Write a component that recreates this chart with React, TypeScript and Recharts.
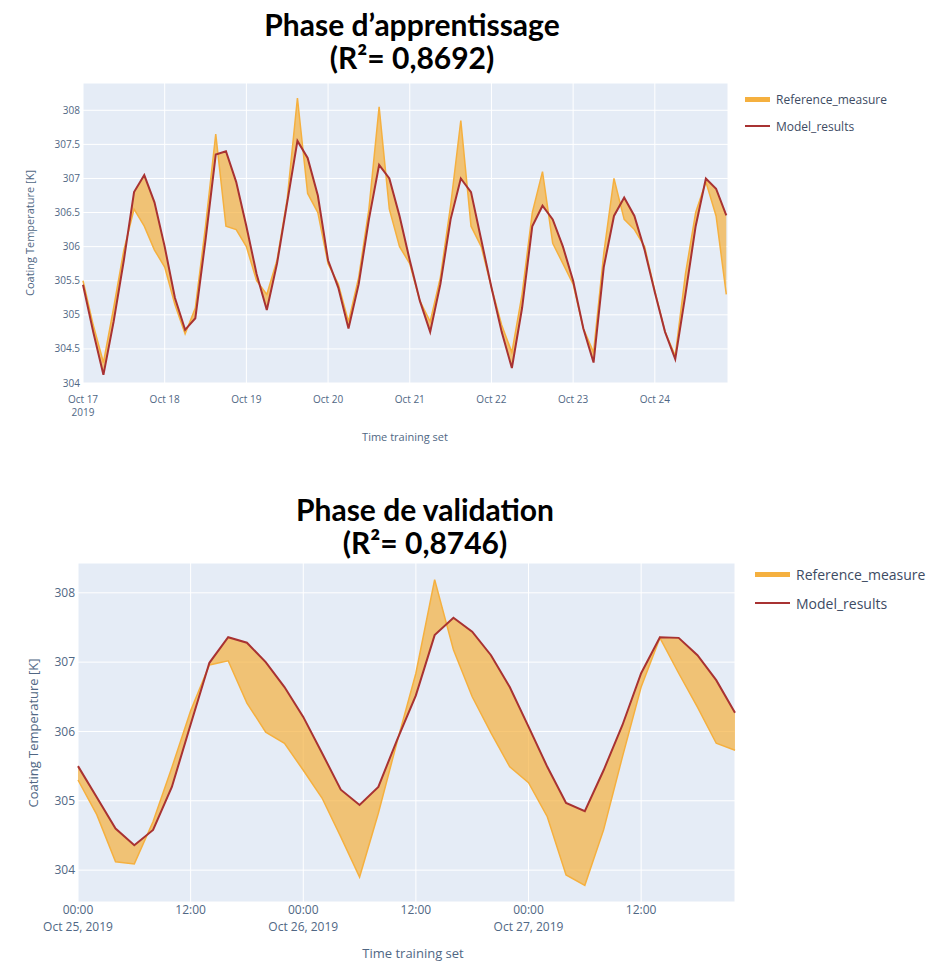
import { Area, CartesianGrid, ComposedChart, Line, XAxis, YAxis } from "recharts";

// training set, one point every 3 hours from Oct 17 00:00
const trainHours = [
  0, 3, 6, 9, 12, 15, 18, 21, 24, 27, 30, 33, 36, 39, 42, 45, 48, 51, 54, 57, 60,
  63, 66, 69, 72, 75, 78, 81, 84, 87, 90, 93, 96, 99, 102, 105, 108, 111, 114,
  117, 120, 123, 126, 129, 132, 135, 138, 141, 144, 147, 150, 153, 156, 159, 162,
  165, 168, 171, 174, 177, 180, 183, 186, 189,
];
const trainModel = [
  305.44, 304.75, 304.12, 304.9, 305.8, 306.8, 307.05, 306.65, 306.0, 305.25,
  304.78, 304.95, 306.1, 307.35, 307.4, 306.95, 306.3, 305.6, 305.07, 305.75,
  306.65, 307.55, 307.3, 306.75, 305.8, 305.4, 304.8, 305.45, 306.4, 307.2, 307.0,
  306.45, 305.8, 305.2, 304.75, 305.45, 306.4, 307.0, 306.8, 306.1, 305.4, 304.75,
  304.22, 305.1, 306.3, 306.6, 306.4, 306.0, 305.5, 304.8, 304.3, 305.7, 306.45,
  306.72, 306.45, 305.95, 305.33, 304.75, 304.35, 305.3, 306.3, 307.0, 306.85,
  306.46,
];
const trainRef = [
  305.5, 304.85, 304.3, 305.1, 305.95, 306.55, 306.3, 305.95, 305.7, 305.15,
  304.72, 305.1, 306.3, 307.65, 306.3, 306.25, 306.0, 305.5, 305.3, 305.8, 306.7,
  308.18, 306.78, 306.5, 305.75, 305.45, 304.9, 305.55, 306.55, 308.05, 306.55,
  306.0, 305.75, 305.2, 304.9, 305.55, 306.6, 307.85, 306.3, 306.0, 305.4, 304.85,
  304.45, 305.3, 306.5, 307.1, 306.05, 305.75, 305.45, 304.8, 304.45, 305.9, 307.0,
  306.4, 306.25, 306.0, 305.35, 304.75, 304.4, 305.6, 306.5, 306.95, 306.45, 305.3,
];
const trainTicks = [0, 24, 48, 72, 96, 120, 144, 168];
const trainTickTop = ["Oct 17", "Oct 18", "Oct 19", "Oct 20", "Oct 21", "Oct 22", "Oct 23", "Oct 24"];
const trainTickBottom = ["2019", "", "", "", "", "", "", ""];
const trainYTicks = [304, 304.5, 305, 305.5, 306, 306.5, 307, 307.5, 308];

// validation set, one point every 2 hours from Oct 25 00:00
const valHours = [
  0, 2, 4, 6, 8, 10, 12, 14, 16, 18, 20, 22, 24, 26, 28, 30, 32, 34, 36, 38, 40,
  42, 44, 46, 48, 50, 52, 54, 56, 58, 60, 62, 64, 66, 68, 70,
];
const valModel = [
  305.5, 305.05, 304.6, 304.36, 304.58, 305.2, 306.1, 306.99, 307.36, 307.28,
  307.0, 306.64, 306.21, 305.69, 305.16, 304.94, 305.2, 305.88, 306.52, 307.39,
  307.64, 307.44, 307.1, 306.64, 306.07, 305.49, 304.97, 304.85, 305.44, 306.09,
  306.84, 307.36, 307.35, 307.1, 306.74, 306.27,
];
const valRef = [
  305.3, 304.8, 304.12, 304.09, 304.7, 305.48, 306.3, 306.96, 307.02, 306.41,
  305.99, 305.83, 305.44, 305.04, 304.48, 303.9, 304.82, 305.85, 306.84, 308.19,
  307.18, 306.5, 305.98, 305.49, 305.26, 304.77, 303.93, 303.78, 304.58, 305.63,
  306.64, 307.35, 306.84, 306.35, 305.83, 305.73,
];
const valTicks = [0, 12, 24, 36, 48, 60];
const valTickTop = ["00:00", "12:00", "00:00", "12:00", "00:00", "12:00"];
const valTickBottom = ["Oct 25, 2019", "", "Oct 26, 2019", "", "Oct 27, 2019", ""];
const valYTicks = [304, 305, 306, 307, 308];

const BG = "#E5ECF6";
const REF = "#F5B03F";
const MODEL = "#A83232";
const TXT = "#506784";
const FONT = "'Open Sans', sans-serif";

const trainData = trainHours.map((h, i) => ({ h, model: trainModel[i], ref: trainRef[i] }));
const valData = valHours.map((h, i) => ({ h, model: valModel[i], ref: valRef[i] }));

function makeTick(ticks: number[], top: string[], bottom: string[], size: number, dy1: number, dy2: number) {
  return (props: any) => {
    const { x, y, payload } = props;
    const i = ticks.indexOf(payload.value);
    return (
      <g transform={`translate(${x},${y})`}>
        <text textAnchor="middle" fill={TXT} fontSize={size} fontFamily={FONT}>
          <tspan x={0} dy={dy1}>{top[i]}</tspan>
          {bottom[i] ? <tspan x={0} dy={dy2}>{bottom[i]}</tspan> : null}
        </text>
      </g>
    );
  };
}

function Legend({ left, top, size, gap, swatch }: { left: number; top: number; size: number; gap: number; swatch: number }) {
  const row = (label: string, color: string, thick: number, y: number) => (
    <div style={{ position: "absolute", left, top: y, display: "flex", alignItems: "center", height: size + 4 }}>
      <div style={{ width: swatch, height: thick, background: color }} />
      <span style={{ marginLeft: 6, fontSize: size, fontFamily: FONT, color: "#3d4b63", whiteSpace: "nowrap" }}>{label}</span>
    </div>
  );
  return (
    <>
      {row("Reference_measure", REF, 5, top)}
      {row("Model_results", MODEL, 2, top + gap)}
    </>
  );
}

function Title({ lines, center, top }: { lines: string[]; center: number; top: number }) {
  return (
    <div
      style={{
        position: "absolute",
        left: center - 250,
        top,
        width: 500,
        textAlign: "center",
        fontFamily: "Lato, 'Open Sans', sans-serif",
        fontWeight: 700,
        fontSize: 30,
        lineHeight: "33px",
        color: "#000",
      }}
    >
      {lines.map((l) => (
        <div key={l}>{l}</div>
      ))}
    </div>
  );
}

function YTitle({ cx, cy, size }: { cx: number; cy: number; size: number }) {
  return (
    <div
      style={{
        position: "absolute",
        left: cx - 150,
        top: cy - size,
        width: 300,
        textAlign: "center",
        transform: "rotate(-90deg)",
        fontSize: size,
        lineHeight: `${size * 2}px`,
        fontFamily: FONT,
        color: TXT,
      }}
    >
      Coating Temperature [K]
    </div>
  );
}

function XTitle({ cx, cy, size }: { cx: number; cy: number; size: number }) {
  return (
    <div
      style={{
        position: "absolute",
        left: cx - 150,
        top: cy - size,
        width: 300,
        textAlign: "center",
        fontSize: size,
        lineHeight: `${size * 2}px`,
        fontFamily: FONT,
        color: TXT,
      }}
    >
      Time training set
    </div>
  );
}

export default function App() {
  return (
    <div style={{ position: "absolute", left: 0, top: 0, width: 932, height: 961, background: "#fff", overflow: "hidden" }}>
      <Title lines={["Phase d’apprentissage", "(R²= 0,8692)"]} center={412} top={8} />
      <div style={{ position: "absolute", left: 0, top: 0 }}>
        <ComposedChart width={932} height={460} data={trainData} margin={{ top: 83, right: 204, left: 23, bottom: 37 }}>
          <CartesianGrid fill={BG} stroke="#fff" strokeWidth={1} vertical={true} />
          <XAxis
            dataKey="h"
            type="number"
            domain={[0, 189.5]}
            ticks={trainTicks}
            height={40}
            axisLine={false}
            tickLine={false}
            tickSize={0}
            tickMargin={0}
            interval={0}
            tick={makeTick(trainTicks, trainTickTop, trainTickBottom, 10, 20, 13)}
          />
          <YAxis
            type="number"
            domain={[304, 308.4]}
            ticks={trainYTicks}
            width={60}
            axisLine={false}
            tickLine={false}
            tickSize={0}
            tickMargin={3}
            interval={0}
            tick={{ fill: TXT, fontSize: 10, fontFamily: FONT }}
          />
          <Area dataKey={(d: any) => [d.model, d.ref]} fill={REF} fillOpacity={0.7} stroke="none" isAnimationActive={false} />
          <Line dataKey="ref" stroke={REF} strokeWidth={1.5} dot={false} isAnimationActive={false} />
          <Line dataKey="model" stroke={MODEL} strokeWidth={2} dot={false} isAnimationActive={false} />
        </ComposedChart>
      </div>
      <YTitle cx={30} cy={233} size={11} />
      <XTitle cx={405} cy={437} size={11} />
      <Legend left={745} top={91} size={12} gap={27} swatch={25} />

      <Title lines={["Phase de validation", "(R²= 0,8746)"]} center={425} top={493} />
      <div style={{ position: "absolute", left: 0, top: 480 }}>
        <ComposedChart width={932} height={470} data={valData} margin={{ top: 83, right: 197, left: 18, bottom: 8 }}>
          <CartesianGrid fill={BG} stroke="#fff" strokeWidth={1} />
          <XAxis
            dataKey="h"
            type="number"
            domain={[0, 70]}
            ticks={valTicks}
            height={40}
            axisLine={false}
            tickLine={false}
            tickSize={0}
            tickMargin={0}
            interval={0}
            tick={makeTick(valTicks, valTickTop, valTickBottom, 12, 12, 17)}
          />
          <YAxis
            type="number"
            domain={[303.54, 308.43]}
            ticks={valYTicks}
            width={60}
            axisLine={false}
            tickLine={false}
            tickSize={0}
            tickMargin={3}
            interval={0}
            tick={{ fill: TXT, fontSize: 12, fontFamily: FONT }}
          />
          <Area dataKey={(d: any) => [d.model, d.ref]} fill={REF} fillOpacity={0.7} stroke="none" isAnimationActive={false} />
          <Line dataKey="ref" stroke={REF} strokeWidth={1.5} dot={false} isAnimationActive={false} />
          <Line dataKey="model" stroke={MODEL} strokeWidth={2} dot={false} isAnimationActive={false} />
        </ComposedChart>
      </div>
      <YTitle cx={33} cy={733} size={13} />
      <XTitle cx={413} cy={953} size={13} />
      <Legend left={755} top={565} size={14} gap={29} swatch={35} />
    </div>
  );
}
